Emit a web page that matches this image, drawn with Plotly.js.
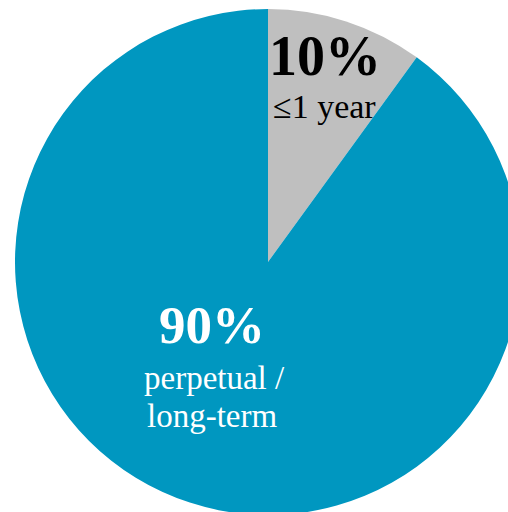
<!DOCTYPE html>
<html><head><meta charset="utf-8">
<script src="https://cdn.plot.ly/plotly-3.0.1.min.js"></script>
<style>html,body{margin:0;padding:0;overflow:hidden;width:508px;height:512px;background:#fff}
#chart{position:absolute;left:15px;top:9px;width:506px;height:506px}</style>
</head><body><div id="chart"></div>
<script>
const categories = ["≤1 year", "perpetual /<br>long-term"];
const shares = [10, 90];
const colors = ["#bfbfbf", "#0097c0"];

const font = "Liberation Serif, Times New Roman, serif";
const trace = {
  type: "pie",
  values: shares,
  labels: categories,
  sort: false,
  direction: "clockwise",
  rotation: 0,
  marker: {colors: colors, line: {width: 0}},
  textinfo: "none",
  hoverinfo: "none",
  domain: {x: [0, 1], y: [0, 1]}
};
const bigLines = categories[1].split("<br>");
const annotations = [
  {x: 0.6126, y: 0.907, text: "<b>" + shares[0] + "%</b>", font: {family: font, size: 56, color: "#000"}},
  {x: 0.6107, y: 0.807, text: categories[0], font: {family: font, size: 34, color: "#000"}},
  {x: 0.3893, y: 0.376, text: "<b>" + shares[1] + "%</b>", font: {family: font, size: 53, color: "#fff"}},
  {x: 0.394, y: 0.2708, text: bigLines[0], font: {family: font, size: 33, color: "#fff"}},
  {x: 0.390, y: 0.1957, text: bigLines[1], font: {family: font, size: 33, color: "#fff"}}
].map(a => Object.assign({xref: "paper", yref: "paper", showarrow: false, xanchor: "center", yanchor: "middle"}, a));

Plotly.newPlot("chart", [trace], {
  width: 506, height: 506,
  margin: {l: 0, r: 0, t: 0, b: 0, pad: 0},
  showlegend: false,
  paper_bgcolor: "rgba(0,0,0,0)",
  annotations: annotations
}, {staticPlot: true, displayModeBar: false});
</script></body></html>
